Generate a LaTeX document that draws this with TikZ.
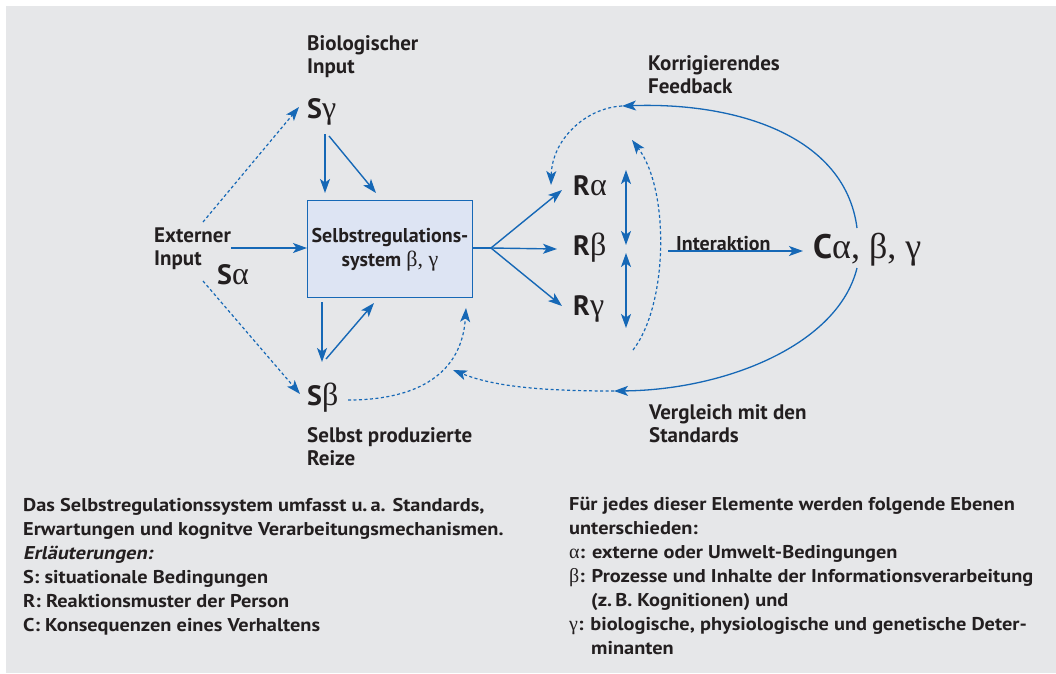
\documentclass[tikz,border=0pt]{standalone}
\usepackage{fontspec}
\setmainfont{PT Sans}
\newfontfamily\bodyfont{PT Sans}[FakeStretch=1.1]
\newfontfamily\gr{Liberation Serif}
\usetikzlibrary{arrows.meta}
\definecolor{bg}{RGB}{230,231,233}
\definecolor{blu}{RGB}{22,104,182}
\definecolor{boxfill}{RGB}{221,228,243}
\definecolor{txt}{RGB}{35,31,32}
\begin{document}
\begin{tikzpicture}[x=1pt,y=-1pt,
  lbl/.style={font=\fontsize{21}{23}\selectfont\bfseries, text=txt, align=left, inner sep=0pt, anchor=base west},
  body/.style={font=\bodyfont\fontsize{18.5}{24}\selectfont\bfseries, text=txt, align=left, inner sep=0pt, anchor=base west},
  big/.style={font=\fontsize{28}{30}\selectfont, text=txt, inner sep=0pt, anchor=base west},
  bigc/.style={font=\fontsize{34}{36}\selectfont, text=txt, inner sep=0pt, anchor=base west},
  tip/.style={-{Stealth[length=14pt,width=10pt,inset=3.5pt]}},
  conn/.style={draw=blu, line width=1.4pt, tip},
  dconn/.style={draw=blu, line width=1.2pt, tip, dash pattern=on 3pt off 2.5pt},
  plain/.style={draw=blu, line width=1.4pt},
  curve/.style={draw=blu, line width=1.3pt, tip},
  twoway/.style={draw=blu, line width=1.4pt, {Stealth[length=14pt,width=10pt,inset=3.5pt]}-{Stealth[length=14pt,width=10pt,inset=3.5pt]}},
  sysbox/.style={draw=blu, line width=1pt, fill=boxfill}
]
\useasboundingbox (0,0) rectangle (1056,673);
\fill[white] (0,0) rectangle (1056,673);
\fill[bg] (6,6) rectangle (1056,673);

% box
\node[sysbox, minimum width=165pt, minimum height=97pt, inner sep=0pt, anchor=north west] (sys) at (307,200) {};
\node[lbl, font=\fontsize{20}{24}\selectfont\bfseries, align=center, anchor=base] (systxt) at (390,266) {Selbstregulations-\\system {\gr\mdseries\fontsize{22}{24}\selectfont β, γ}};

% labels
\node[lbl] (bio) at (307,73) {Biologischer\\Input};
\node[lbl] (ext) at (154,265) {Externer\\Input};
\node[lbl] (self) at (307,465) {Selbst produzierte\\Reize};
\node[lbl] (korr) at (648,93) {Korrigierendes\\Feedback};
\node[lbl] (verg) at (649,442) {Vergleich mit den\\Standards};
\node[lbl, font=\fontsize{20}{23}\selectfont\bfseries] (inter) at (676,250) {Interaktion};

% big symbols
\newcommand{\gk}[1]{{\gr\fontsize{32}{32}\selectfont #1}}
\node[big] (sg) at (307,118) {\textbf{S}\gk{γ}};
\node[big] (sa) at (217,284) {\textbf{S}\gk{α}};
\node[big] (sb) at (307,405) {\textbf{S}\gk{β}};
\node[big] (ra) at (573,195) {\textbf{R}\gk{α}};
\node[big] (rb) at (573,255) {\textbf{R}\gk{β}};
\node[big] (rc) at (573,315) {\textbf{R}\gk{γ}};
\node[bigc] (c) at (813,258) {\textbf{C}{\gr\fontsize{36}{36}\selectfont α, β, γ}};

% coordinates
\coordinate (e1s) at (203,222);
\coordinate (e1t) at (299,107);
\coordinate (e2s) at (203,281);
\coordinate (e2t) at (300,394);
\coordinate (e3s) at (231,248);
\coordinate (fan) at (491,248);

% external input
\draw[dconn] (e1s) -- (e1t);
\draw[dconn] (e2s) -- (e2t);
\draw[conn] (e3s) -- (e3s -| sys.west);

% S gamma to box
\draw[conn] (325,134) -- (325,193);
\draw[conn] (329,136) -- (376,193);
% box <-> S beta
\draw[conn] (322,302) -- (322,362);
\draw[conn] (326,359) -- (374,303);
% S beta dashed to box
\draw[dconn] (348,400) .. controls (420,400) and (462,372) .. (466,308);

% box to R
\draw[plain] (sys.east |- fan) -- (fan);
\draw[conn] (fan) -- (562,190);
\draw[conn] (fan) -- (557,249);
\draw[conn] (fan) -- (562,306);

% double arrows
\draw[twoway] (626,170) -- (626,245);
\draw[twoway] (626,253) -- (626,328);

% R group dashed loop
\draw[dconn] (633,350) .. controls (668,305) and (670,190) .. (632,140);

% interaction
\draw[conn] (668,251) -- (803,251);

% corrective feedback
\coordinate (kf) at (622,106);
\draw[curve] (857,228) .. controls (845,135) and (735,102) .. (kf);
\draw[dconn] (kf) .. controls (585,108) and (552,140) .. (551,185);

% comparison with standards
\coordinate (vs) at (614,391);
\draw[curve] (857,268) .. controls (838,345) and (725,390) .. (vs);
\draw[dconn] (vs) .. controls (545,391) and (495,387) .. (453,370);

% legends
\node[body] (legl) at (23,631) {Das Selbstregulationssystem umfasst u.\,a. Standards,\\Erwartungen und kognitve Verarbeitungsmechanismen.\\{\addfontfeature{FakeSlant=0.2}Erläuterungen:}\\S: situationale Bedingungen\\R: Reaktionsmuster der Person\\C: Konsequenzen eines Verhaltens};
\node[body] (legr) at (569,654) {Für jedes dieser Elemente werden folgende Ebenen\\unterschieden:\\{\gr\mdseries\fontsize{20}{24}\selectfont α}: externe oder Umwelt-Bedingungen\\{\gr\mdseries\fontsize{20}{24}\selectfont β}: Prozesse und Inhalte der Informationsverarbeitung\\\hspace*{22pt}(z.\,B. Kognitionen) und\\{\gr\mdseries\fontsize{20}{24}\selectfont γ}: biologische, physiologische und genetische Deter-\\\hspace*{22pt}minanten};
\end{tikzpicture}
\end{document}
